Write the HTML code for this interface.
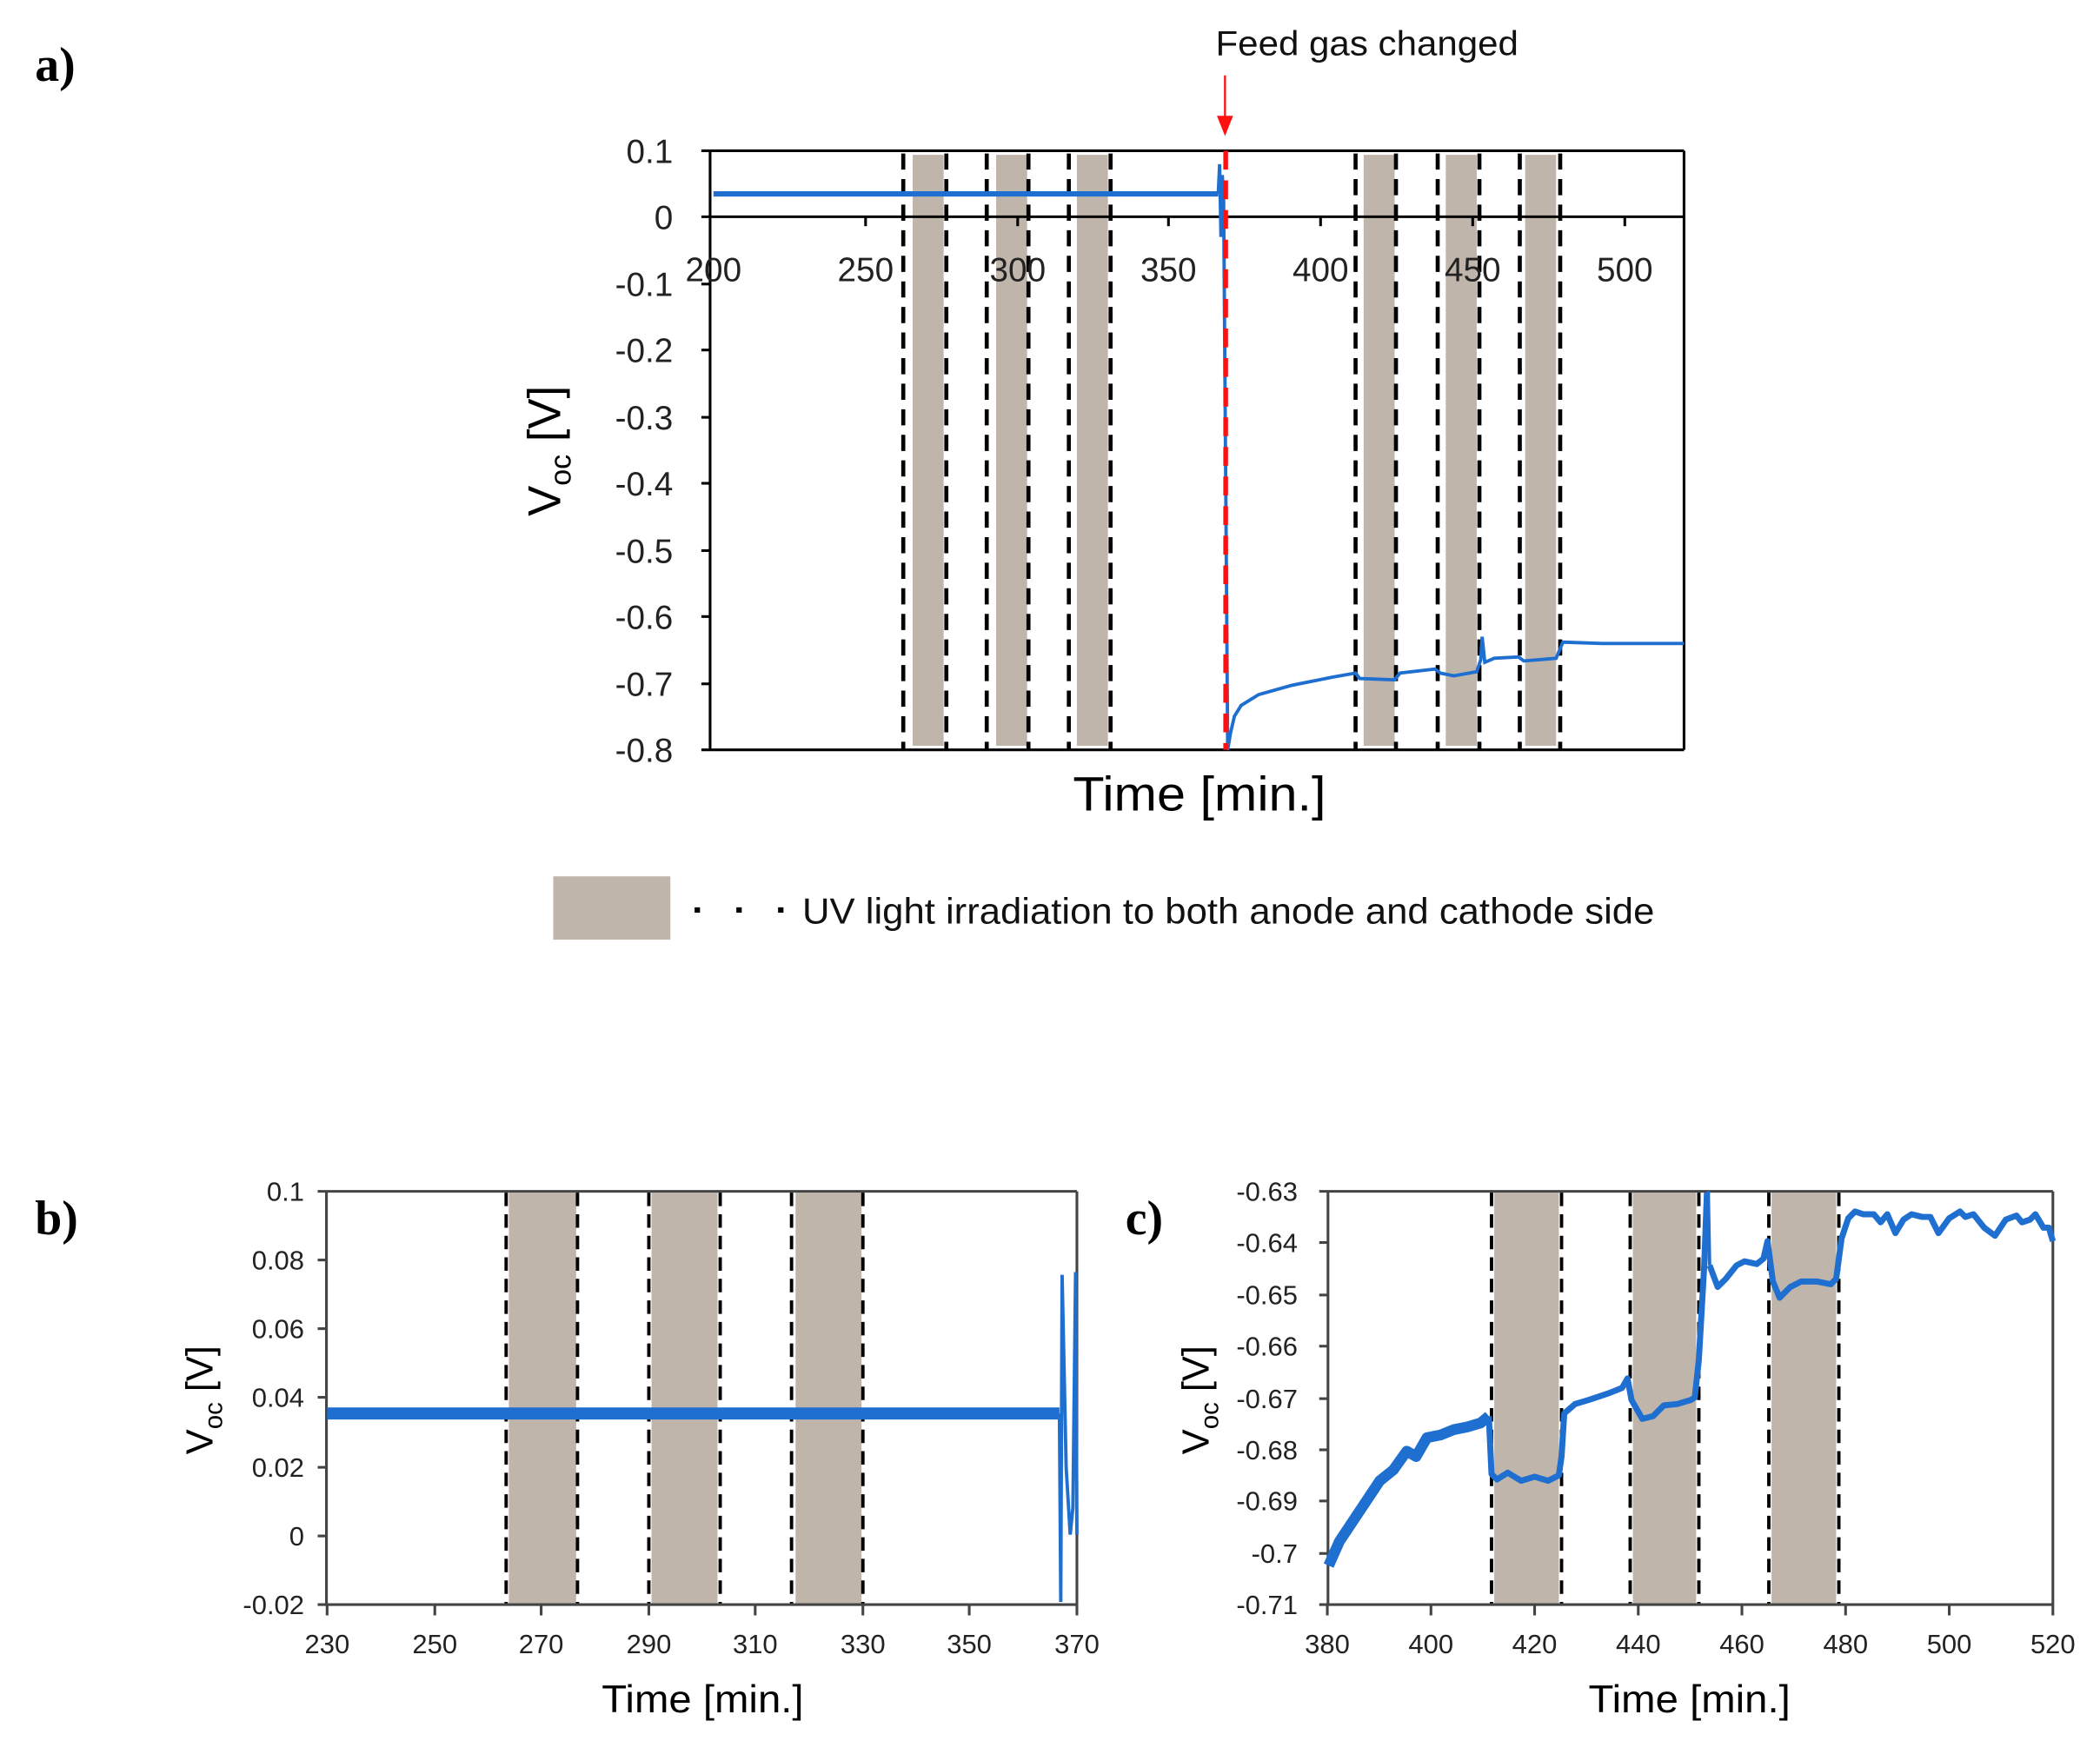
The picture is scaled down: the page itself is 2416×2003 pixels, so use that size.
<!DOCTYPE html>
<html><head><meta charset="utf-8"><style>html,body{margin:0;padding:0;background:#fff}svg{display:block}</style></head>
<body>
<svg width="2416" height="2003" viewBox="0 0 1560 1293.3" xmlns="http://www.w3.org/2000/svg" font-family="Liberation Sans, sans-serif">
<rect width="1560" height="1293.3" fill="#fff"/>
<!-- ========== Panel a ========== -->
<text x="26" y="60" font-family="Liberation Serif, serif" font-weight="bold" font-size="36">a)</text>
<g fill="#c0b5ab">
<rect x="678" y="115" width="23" height="439"/><rect x="740" y="115" width="23" height="439"/><rect x="800" y="115" width="23" height="439"/>
<rect x="1013" y="115" width="23" height="439"/><rect x="1074" y="115" width="23" height="439"/><rect x="1133" y="115" width="23" height="439"/>
</g>
<g stroke="#000" stroke-width="3" stroke-dasharray="12,7">
<line x1="671" y1="114" x2="671" y2="557"/><line x1="703" y1="114" x2="703" y2="557"/>
<line x1="733" y1="114" x2="733" y2="557"/><line x1="764" y1="114" x2="764" y2="557"/>
<line x1="794" y1="114" x2="794" y2="557"/><line x1="825" y1="114" x2="825" y2="557"/>
<line x1="1007" y1="114" x2="1007" y2="557"/><line x1="1037" y1="114" x2="1037" y2="557"/>
<line x1="1068" y1="114" x2="1068" y2="557"/><line x1="1099" y1="114" x2="1099" y2="557"/>
<line x1="1129" y1="114" x2="1129" y2="557"/><line x1="1159" y1="114" x2="1159" y2="557"/>
</g>
<g stroke="#000" stroke-width="2" fill="none">
<line x1="521" y1="112" x2="1251" y2="112"/>
<line x1="521" y1="161" x2="1251" y2="161"/>
<line x1="521" y1="557" x2="1251" y2="557"/>
<line x1="527.5" y1="112" x2="527.5" y2="557"/>
<line x1="1251" y1="112" x2="1251" y2="557"/>
<line x1="521" y1="211" x2="527" y2="211"/><line x1="521" y1="260" x2="527" y2="260"/><line x1="521" y1="310" x2="527" y2="310"/>
<line x1="521" y1="359" x2="527" y2="359"/><line x1="521" y1="409" x2="527" y2="409"/><line x1="521" y1="458" x2="527" y2="458"/>
<line x1="521" y1="508" x2="527" y2="508"/>
<line x1="643" y1="161" x2="643" y2="168"/><line x1="756" y1="161" x2="756" y2="168"/><line x1="868" y1="161" x2="868" y2="168"/>
<line x1="981" y1="161" x2="981" y2="168"/><line x1="1094" y1="161" x2="1094" y2="168"/><line x1="1207" y1="161" x2="1207" y2="168"/>
</g>
<g font-size="25" fill="#222" text-anchor="end">
<text x="500" y="121">0.1</text><text x="500" y="170">0</text><text x="500" y="220">-0.1</text><text x="500" y="269">-0.2</text>
<text x="500" y="319">-0.3</text><text x="500" y="368">-0.4</text><text x="500" y="418">-0.5</text><text x="500" y="467">-0.6</text>
<text x="500" y="517">-0.7</text><text x="500" y="566">-0.8</text>
</g>
<g font-size="25" fill="#222" text-anchor="middle">
<text x="530" y="209">200</text><text x="643" y="209">250</text><text x="756" y="209">300</text><text x="868" y="209">350</text>
<text x="981" y="209">400</text><text x="1094" y="209">450</text><text x="1207" y="209">500</text>
</g>
<text transform="translate(416,335) rotate(-90)" font-size="34" text-anchor="middle" fill="#000">V<tspan font-size="22" dy="8">oc</tspan><tspan dy="-8"> [V]</tspan></text>
<text x="797" y="602" font-size="36" fill="#000" textLength="188" lengthAdjust="spacingAndGlyphs">Time [min.]</text>
<!-- blue a -->
<polyline fill="none" stroke="#1f6fd0" stroke-width="4" points="530,144 905,144"/>
<polyline fill="none" stroke="#1f6fd0" stroke-width="2.5" points="905,144 906,122 907,176 908,130 909,150 911,420 912,557 914,545 917,532 922,524 935,516 960,509 990,503 1007,500 1010,504 1036,505 1040,500 1066,497 1070,500 1080,502 1097,499 1100,490 1101,473 1103,492 1110,489 1128,488 1132,491 1156,489 1161,477 1190,478 1220,478 1251,478"/>
<line x1="910.5" y1="112" x2="910.5" y2="557" stroke="#ff1010" stroke-width="3.5" stroke-dasharray="14,8"/>
<line x1="910" y1="56" x2="910" y2="88" stroke="#ff1010" stroke-width="1.5"/>
<polygon points="904,86 916,86 910,101" fill="#ff1010"/>
<text x="903" y="41" font-size="26" fill="#111" textLength="225" lengthAdjust="spacingAndGlyphs">Feed gas changed</text>
<!-- legend -->
<rect x="411" y="651" width="87" height="47" fill="#c0b5ab"/>
<g fill="#000"><rect x="516" y="674" width="4" height="4"/><rect x="547" y="674" width="4" height="4"/><rect x="578" y="674" width="4" height="4"/></g>
<text x="596" y="686" font-size="27" fill="#111" textLength="633" lengthAdjust="spacingAndGlyphs">UV light irradiation to both anode and cathode side</text>

<!-- ========== Panel b ========== -->
<text x="26" y="917" font-family="Liberation Serif, serif" font-weight="bold" font-size="36">b)</text>
<g fill="#c0b5ab"><rect x="378" y="886" width="50" height="305"/><rect x="484" y="886" width="49" height="305"/><rect x="591" y="886" width="49" height="305"/></g>
<g stroke="#000" stroke-width="2.5" stroke-dasharray="10,6">
<line x1="376" y1="886" x2="376" y2="1192"/><line x1="429" y1="886" x2="429" y2="1192"/>
<line x1="482" y1="886" x2="482" y2="1192"/><line x1="535" y1="886" x2="535" y2="1192"/>
<line x1="588" y1="886" x2="588" y2="1192"/><line x1="641" y1="886" x2="641" y2="1192"/>
</g>
<g stroke="#444" stroke-width="2" fill="none">
<line x1="236" y1="885" x2="800" y2="885"/><line x1="236" y1="1192" x2="800" y2="1192"/>
<line x1="242.5" y1="885" x2="242.5" y2="1192"/><line x1="800" y1="885" x2="800" y2="1192"/>
<line x1="236" y1="936" x2="242" y2="936"/><line x1="236" y1="987" x2="242" y2="987"/><line x1="236" y1="1038" x2="242" y2="1038"/>
<line x1="236" y1="1090" x2="242" y2="1090"/><line x1="236" y1="1141" x2="242" y2="1141"/>
<line x1="243" y1="1192" x2="243" y2="1200"/><line x1="323" y1="1192" x2="323" y2="1200"/><line x1="402" y1="1192" x2="402" y2="1200"/>
<line x1="482" y1="1192" x2="482" y2="1200"/><line x1="561" y1="1192" x2="561" y2="1200"/><line x1="641" y1="1192" x2="641" y2="1200"/>
<line x1="720" y1="1192" x2="720" y2="1200"/><line x1="800" y1="1192" x2="800" y2="1200"/>
</g>
<g font-size="20" fill="#222" text-anchor="end">
<text x="226" y="892">0.1</text><text x="226" y="943">0.08</text><text x="226" y="994">0.06</text><text x="226" y="1045">0.04</text>
<text x="226" y="1097">0.02</text><text x="226" y="1148">0</text><text x="226" y="1199">-0.02</text>
</g>
<g font-size="20" fill="#222" text-anchor="middle">
<text x="243" y="1228">230</text><text x="323" y="1228">250</text><text x="402" y="1228">270</text><text x="482" y="1228">290</text>
<text x="561" y="1228">310</text><text x="641" y="1228">330</text><text x="720" y="1228">350</text><text x="800" y="1228">370</text>
</g>
<text transform="translate(158,1040) rotate(-90)" font-size="28" text-anchor="middle" fill="#000">V<tspan font-size="19" dy="7">oc</tspan><tspan dy="-7"> [V]</tspan></text>
<text x="447" y="1272" font-size="29" fill="#000" textLength="150" lengthAdjust="spacingAndGlyphs">Time [min.]</text>
<line x1="243" y1="1050" x2="787" y2="1050" stroke="#1f6fd0" stroke-width="9"/>
<polyline fill="none" stroke="#1f6fd0" stroke-width="2.5" points="787,1050 788,1190 789,947 792,1090 795,1140 797,1120 799,945 800,1140"/>

<!-- ========== Panel c ========== -->
<text x="836" y="917" font-family="Liberation Serif, serif" font-weight="bold" font-size="36">c)</text>
<g fill="#c0b5ab"><rect x="1110" y="886" width="48" height="305"/><rect x="1213" y="886" width="47" height="305"/><rect x="1316" y="886" width="48" height="305"/></g>
<g stroke="#000" stroke-width="2.5" stroke-dasharray="10,6">
<line x1="1108" y1="886" x2="1108" y2="1192"/><line x1="1160" y1="886" x2="1160" y2="1192"/>
<line x1="1211" y1="886" x2="1211" y2="1192"/><line x1="1262" y1="886" x2="1262" y2="1192"/>
<line x1="1314" y1="886" x2="1314" y2="1192"/><line x1="1366" y1="886" x2="1366" y2="1192"/>
</g>
<g stroke="#444" stroke-width="2" fill="none">
<line x1="980" y1="885" x2="1525" y2="885"/><line x1="980" y1="1192" x2="1525" y2="1192"/>
<line x1="986.5" y1="885" x2="986.5" y2="1192"/><line x1="1525" y1="885" x2="1525" y2="1192"/>
<line x1="980" y1="923" x2="986" y2="923"/><line x1="980" y1="962" x2="986" y2="962"/><line x1="980" y1="1000" x2="986" y2="1000"/>
<line x1="980" y1="1039" x2="986" y2="1039"/><line x1="980" y1="1077" x2="986" y2="1077"/><line x1="980" y1="1115" x2="986" y2="1115"/>
<line x1="980" y1="1154" x2="986" y2="1154"/>
<line x1="986" y1="1192" x2="986" y2="1200"/><line x1="1063" y1="1192" x2="1063" y2="1200"/><line x1="1140" y1="1192" x2="1140" y2="1200"/>
<line x1="1217" y1="1192" x2="1217" y2="1200"/><line x1="1294" y1="1192" x2="1294" y2="1200"/><line x1="1371" y1="1192" x2="1371" y2="1200"/>
<line x1="1448" y1="1192" x2="1448" y2="1200"/><line x1="1525" y1="1192" x2="1525" y2="1200"/>
</g>
<g font-size="20" fill="#222" text-anchor="end">
<text x="964" y="892">-0.63</text><text x="964" y="930">-0.64</text><text x="964" y="969">-0.65</text><text x="964" y="1007">-0.66</text>
<text x="964" y="1046">-0.67</text><text x="964" y="1084">-0.68</text><text x="964" y="1122">-0.69</text><text x="964" y="1161">-0.7</text><text x="964" y="1199">-0.71</text>
</g>
<g font-size="20" fill="#222" text-anchor="middle">
<text x="986" y="1228">380</text><text x="1063" y="1228">400</text><text x="1140" y="1228">420</text><text x="1217" y="1228">440</text>
<text x="1294" y="1228">460</text><text x="1371" y="1228">480</text><text x="1448" y="1228">500</text><text x="1525" y="1228">520</text>
</g>
<text transform="translate(898,1040) rotate(-90)" font-size="28" text-anchor="middle" fill="#000">V<tspan font-size="19" dy="7">oc</tspan><tspan dy="-7"> [V]</tspan></text>
<text x="1180" y="1272" font-size="29" fill="#000" textLength="150" lengthAdjust="spacingAndGlyphs">Time [min.]</text>
<polyline fill="none" stroke="#1f6fd0" stroke-width="8" stroke-linejoin="round" points="987,1163 995,1145 1005,1130 1015,1115 1025,1100 1035,1092 1045,1078 1052,1082 1060,1068 1070,1066 1080,1062 1090,1060 1100,1057 1106,1052"/>
<polyline fill="none" stroke="#1f6fd0" stroke-width="4.5" stroke-linejoin="round" points="1106,1052 1108,1095 1112,1099 1120,1094 1130,1100 1140,1097 1150,1100 1158,1096 1160,1082 1162,1050 1170,1043 1180,1040 1195,1035 1205,1031 1209,1024 1212,1040 1220,1054 1228,1052 1236,1044 1246,1043 1256,1040 1259,1038 1262,1010 1266,940 1268,886"/>
<polyline fill="none" stroke="#1f6fd0" stroke-width="2.5" points="1268,886 1269,886 1270,940"/>
<polyline fill="none" stroke="#1f6fd0" stroke-width="4.5" stroke-linejoin="round" points="1270,940 1276,956 1282,950 1290,940 1296,937 1305,939 1310,935 1313,922 1317,952 1322,964 1330,956 1338,952 1350,952 1360,954 1364,950 1368,920 1373,905 1378,900 1384,902 1392,902 1397,908 1402,902 1408,916 1414,906 1420,902 1428,904 1434,904 1440,916 1448,905 1456,900 1460,904 1466,902 1474,912 1482,918 1490,906 1498,903 1502,908 1508,906 1512,902 1518,912 1522,912 1525,922"/>
</svg>
</body></html>
